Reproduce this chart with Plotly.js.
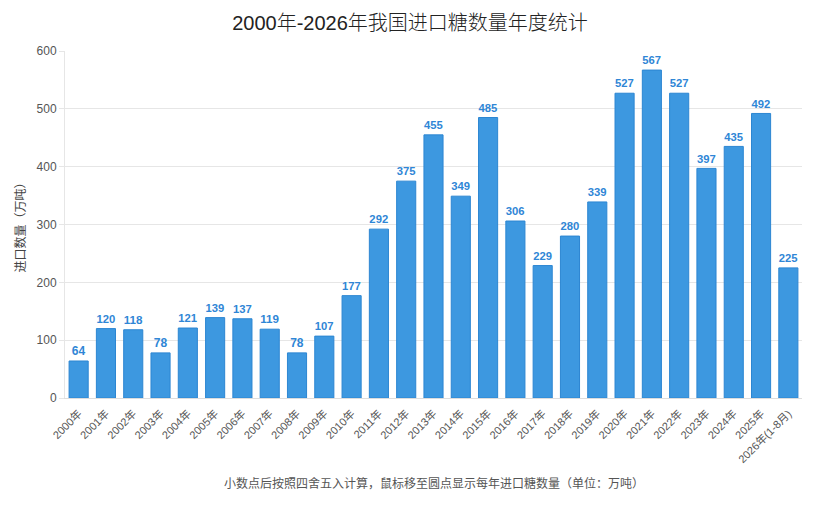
<!DOCTYPE html>
<html>
<head>
<meta charset="utf-8">
<script src="https://cdn.plot.ly/plotly-3.0.1.min.js"></script>
<style>
  html, body { margin: 0; padding: 0; background: #fff; }
  #chart { width: 820px; height: 513px; }
</style>
</head>
<body>
<div id="chart"></div>
<script>
const years = ["2000年", "2001年", "2002年", "2003年", "2004年", "2005年", "2006年", "2007年", "2008年",
  "2009年", "2010年", "2011年", "2012年", "2013年", "2014年", "2015年", "2016年", "2017年", "2018年",
  "2019年", "2020年", "2021年", "2022年", "2023年", "2024年", "2025年", "2026年(1-8月)"];
const imports = [64, 120, 118, 78, 121, 139, 137, 119, 78, 107, 177, 292, 375, 455, 349, 485, 306,
  229, 280, 339, 527, 567, 527, 397, 435, 492, 225];

const cjk = 'Helvetica, "Liberation Sans", "Noto Sans CJK SC", sans-serif';

Plotly.newPlot('chart', [{
  x: years,
  y: imports,
  type: 'bar',
  text: imports.map(String),
  textposition: 'outside',
  cliponaxis: false,
  textfont: { color: '#2f86d6', size: 12, family: cjk, weight: 'bold' },
  marker: { color: '#3d98e0', line: { color: '#2c86d2', width: 1 } },
  hoverinfo: 'x+y'
}], {
  width: 820,
  height: 513,
  margin: { l: 65, r: 18, t: 51, b: 115 },
  paper_bgcolor: '#fff',
  plot_bgcolor: '#fff',
  bargap: 0.3,
  showlegend: false,
  font: { family: cjk, color: '#555' },
  title: {
    text: '2000年-2026年我国进口糖数量年度统计',
    font: { size: 20, color: '#222', family: cjk, weight: 300 },
    x: 0.5, xanchor: 'center', y: 0.955, yanchor: 'middle'
  },
  xaxis: {
    type: 'category',
    tickangle: -45,
    tickfont: { size: 11, color: '#555' },
    showgrid: false,
    showline: true,
    linecolor: '#ddd',
    ticks: '',
    ticklabelstandoff: 4
  },
  yaxis: {
    range: [0, 600],
    dtick: 100,
    tickfont: { size: 12, color: '#555' },
    gridcolor: '#e6e6e6',
    zeroline: false,
    showline: true,
    linecolor: '#e6e6e6',
    ticks: 'outside',
    ticklen: 5,
    tickcolor: '#e6e6e6',
    title: { text: '进口数量（万吨）', font: { size: 12, color: '#444' }, standoff: 8 }
  },
  annotations: [{
    text: '小数点后按照四舍五入计算，鼠标移至圆点显示每年进口糖数量（单位：万吨）',
    xref: 'paper', yref: 'paper', x: 0.5, y: -0.245,
    xanchor: 'center', yanchor: 'middle',
    showarrow: false,
    font: { size: 12, color: '#555', family: cjk }
  }]
}, { displayModeBar: false });
</script>
</body>
</html>
